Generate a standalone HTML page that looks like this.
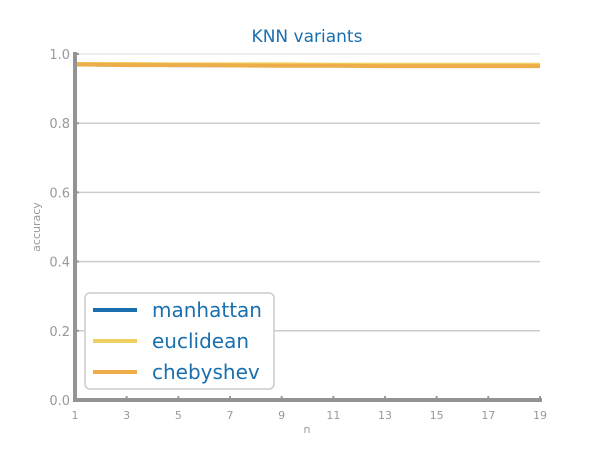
<!DOCTYPE html>
<html><head><meta charset="utf-8"><style>
body{margin:0;background:#fff}
svg{font-family:"DejaVu Sans","Liberation Sans",sans-serif}
</style></head><body>
<svg id="c" width="600" height="450"></svg>
<script>
const ns="http://www.w3.org/2000/svg";
const nValues=[1,3,5,7,9,11,13,15,17,19];
const manhattan=[0.970,0.969,0.968,0.968,0.967,0.967,0.967,0.966,0.966,0.966];
const euclidean=[0.971,0.971,0.970,0.970,0.970,0.969,0.969,0.969,0.969,0.969];
const chebyshev=[0.970,0.968,0.968,0.967,0.966,0.966,0.965,0.965,0.965,0.965];
const yTicks=[0,0.2,0.4,0.6,0.8,1.0];
const yTickLabels=["0.0","0.2","0.4","0.6","0.8","1.0"];
const xTicks=[1,3,5,7,9,11,13,15,17,19];
const svg=document.getElementById('c');
const X0=75,X1=540,Y0=400,Y1=54;
const sx=v=>X0+(v-1)/(19-1)*(X1-X0);
const sy=v=>Y0-v*(Y0-Y1);
function mk(t,a,txt){const e=document.createElementNS(ns,t);for(const k in a)e.setAttribute(k,a[k]);if(txt!==undefined)e.textContent=txt;svg.appendChild(e);return e;}
let e=mk('text',{x:307,y:42,'text-anchor':'middle','font-size':17,fill:'#1a6faf'},'KNN variants');


yTicks.forEach((v,i)=>{
 if(v>0){const g=mk('line',{x1:X0,x2:X1,y1:sy(v),y2:sy(v),stroke:v==1?'#ddd':'#ccc','stroke-width':v==1?1:1.5});
 
 }
 const t=mk('text',{x:70,y:sy(v)+5,'text-anchor':'end','font-size':13,fill:'#999'},yTickLabels[i]);
 
 
 const tk=mk('line',{x1:X0,x2:X0+4,y1:sy(v),y2:sy(v),stroke:'#999','stroke-width':2});
 
 
});
xTicks.forEach(v=>{
 const t=mk('text',{x:sx(v),y:419,'text-anchor':'middle','font-size':11,fill:'#999'},String(v));
 
 
 const tk=mk('line',{x1:sx(v),x2:sx(v),y1:Y0,y2:Y0-4,stroke:'#999','stroke-width':2});
 
 
});
e=mk('text',{x:307,y:433,'text-anchor':'middle','font-size':11,fill:'#999'},'n');


e=mk('text',{x:40,y:227,'text-anchor':'middle','font-size':11,fill:'#999',transform:'rotate(-90 40 227)'},'accuracy');


const series=[['manhattan',manhattan,'#1a6faf'],['euclidean',euclidean,'#f0d060'],['chebyshev',chebyshev,'#edae49']];
series.forEach(([n,d,c])=>{
 const p=mk('polyline',{points:d.map((v,i)=>sx(nValues[i])+','+sy(v)).join(' '),fill:'none',stroke:c,'stroke-width':4});
 
 
});
e=mk('line',{x1:X0,x2:X0,y1:52,y2:402,stroke:'#939393','stroke-width':4});


e=mk('line',{x1:73,x2:542,y1:Y0,y2:Y0,stroke:'#939393','stroke-width':4});


e=mk('rect',{x:85,y:293,width:189,height:96,rx:5,fill:'#fff',stroke:'#ccc','stroke-width':1.5});


series.forEach(([n,d,c],i)=>{
 const y=310+i*31;
 const l=mk('line',{x1:93,x2:137,y1:y,y2:y,stroke:c,'stroke-width':4});
 
 
 const t=mk('text',{x:152,y:y+7,'font-size':20,fill:'#1a6faf'},n);
 
 
});
</script>
</body></html>
